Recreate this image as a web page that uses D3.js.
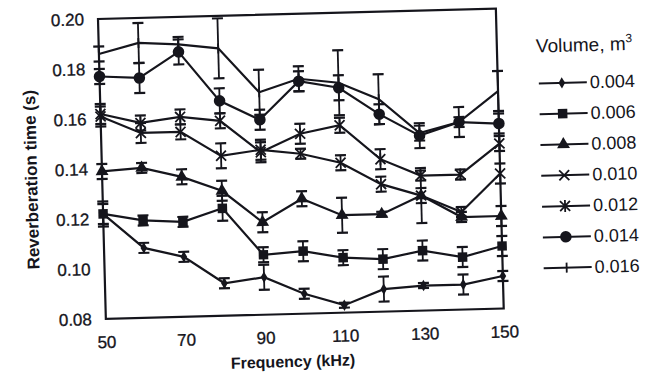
<!DOCTYPE html>
<html>
<head>
<meta charset="utf-8">
<script src="https://cdn.jsdelivr.net/npm/d3@7"></script>
<style>
  body { margin: 0; background: #fff; }
  svg { display: block; font-family: "Liberation Sans", Arial, sans-serif; }
</style>
</head>
<body>
<svg id="chart" width="654" height="376"></svg>
<script>
// data
const freq = [50, 60, 70, 80, 90, 100, 110, 120, 130, 140, 150];
const volumes = ["0.004", "0.006", "0.008", "0.010", "0.012", "0.014", "0.016"];
const v004 = [0.122, 0.108, 0.104, 0.093, 0.095, 0.088, 0.083, 0.089, 0.090, 0.090, 0.093];
const v006 = [0.122, 0.119, 0.118, 0.123, 0.104, 0.105, 0.102, 0.101, 0.104, 0.101, 0.105];
const v008 = [0.139, 0.140, 0.136, 0.130, 0.117, 0.126, 0.119, 0.119, 0.126, 0.117, 0.117];
const v010 = [0.161, 0.154, 0.154, 0.144, 0.146, 0.144, 0.140, 0.131, 0.126, 0.119, 0.134];
const v012 = [0.162, 0.158, 0.160, 0.158, 0.145, 0.152, 0.155, 0.141, 0.134, 0.134, 0.146];
const v014 = [0.177, 0.176, 0.186, 0.166, 0.158, 0.173, 0.170, 0.159, 0.150, 0.155, 0.154];
const v016 = [0.186, 0.190, 0.189, 0.187, 0.169, 0.174, 0.172, 0.165, 0.151, 0.155, 0.167];
const e004 = [0.004, 0.002, 0.002, 0.002, 0.005, 0.002, 0.001, 0.005, 0.001, 0.004, 0.002];
const e006 = [0.005, 0.002, 0.002, 0.005, 0.003, 0.004, 0.003, 0.004, 0.004, 0.004, 0.004];
const e008 = [0.003, 0.002, 0.003, 0.004, 0.004, 0.003, 0.007, 0.001, 0.011, 0.002, 0.004];
const e010 = [0.004, 0.004, 0.003, 0.005, 0.004, 0.002, 0.003, 0.003, 0.003, 0.002, 0.004];
const e012 = [0.004, 0.003, 0.003, 0.003, 0.004, 0.004, 0.003, 0.004, 0.002, 0.002, 0.003];
const e014 = [0.003, 0.006, 0.005, 0.005, 0.004, 0.004, 0.005, 0.004, 0.005, 0.006, 0.004];
const e016 = [0.003, 0.008, 0.003, 0.012, 0.009, 0.005, 0.013, 0.010, 0.003, 0.002, 0.008];
const xTicks = [50, 70, 90, 110, 130, 150];
const yTicks = [0.08, 0.10, 0.12, 0.14, 0.16, 0.18, 0.20];

const values = [v004, v006, v008, v010, v012, v014, v016];
const errors = [e004, e006, e008, e010, e012, e014, e016];
const markers = ["diamond", "square", "triangle", "cross", "star", "circle", "tick"];

const ink = "#15151c";
const plotLeft = 98, plotTop = 19, plotW = 398, plotH = 300;

const svg = d3.select("#chart");
// the scan is tilted slightly, so the whole figure is turned a little
const root = svg.append("g").attr("transform", `rotate(-1.5, ${plotLeft}, ${plotTop})`);

const x = d3.scaleLinear().domain([50, 150]).range([plotLeft, plotLeft + plotW]);
const y = d3.scaleLinear().domain([0.08, 0.20]).range([plotTop + plotH, plotTop]);

// frame
root.append("rect")
  .attr("x", plotLeft).attr("y", plotTop).attr("width", plotW).attr("height", plotH)
  .attr("fill", "none").attr("stroke", ink).attr("stroke-width", 2.2);

// axes (labels only, no visible ticks)
const xAxis = root.append("g")
  .attr("transform", `translate(0,${plotTop + plotH})`)
  .call(d3.axisBottom(x).tickValues(xTicks).tickSize(0).tickPadding(17).tickFormat(d3.format("d")));
const yAxis = root.append("g")
  .attr("transform", `translate(${plotLeft},0)`)
  .call(d3.axisLeft(y).tickValues(yTicks).tickSize(0).tickPadding(14).tickFormat(d3.format(".2f")));
[xAxis, yAxis].forEach(a => {
  a.select(".domain").remove();
  a.selectAll("text").attr("font-size", 17).attr("fill", ink)
    .attr("stroke", ink).attr("stroke-width", 0.3)
    .attr("font-family", "Liberation Sans, Arial, sans-serif");
});

root.append("text")
  .attr("x", 284).attr("y", 372)
  .attr("text-anchor", "middle").attr("font-size", 16).attr("font-weight", "bold").attr("fill", ink)
  .text("Frequency (kHz)");
root.append("text")
  .attr("transform", "translate(33,178) rotate(-90)")
  .attr("text-anchor", "middle").attr("font-size", 17).attr("font-weight", "bold").attr("fill", ink)
  .text("Reverberation time (s)");

function drawMarker(g, type) {
  const sym = {
    diamond: d3.symbol(d3.symbolDiamond, 38),
    square: d3.symbol(d3.symbolSquare, 90),
    triangle: d3.symbol(d3.symbolTriangle, 72),
    circle: d3.symbol(d3.symbolCircle, 105)
  };
  if (sym[type]) {
    g.append("path").attr("d", sym[type]()).attr("fill", ink);
  } else if (type === "cross") {
    g.append("path").attr("d", "M-5,-5L5,5M-5,5L5,-5").attr("stroke", ink).attr("stroke-width", 1.8);
  } else if (type === "star") {
    g.append("path").attr("d", "M-5,-5L5,5M-5,5L5,-5M0,-6L0,6").attr("stroke", ink).attr("stroke-width", 1.8);
  } else if (type === "tick") {
    g.append("path").attr("d", "M0,-5L0,5").attr("stroke", ink).attr("stroke-width", 1.8);
  }
}

const line = d3.line().x(d => x(d.f)).y(d => y(d.v));

values.forEach((vals, s) => {
  const pts = freq.map((f, i) => ({ f: f, v: vals[i], e: errors[s][i] }));
  const g = root.append("g");

  // error bars
  const bars = g.selectAll(".err").data(pts).enter().append("g").attr("class", "err")
    .attr("stroke", ink).attr("stroke-width", 1.8);
  bars.append("line")
    .attr("x1", d => x(d.f)).attr("x2", d => x(d.f))
    .attr("y1", d => y(d.v - d.e)).attr("y2", d => y(d.v + d.e));
  bars.append("line")
    .attr("x1", d => x(d.f) - 5.5).attr("x2", d => x(d.f) + 5.5)
    .attr("y1", d => y(d.v + d.e)).attr("y2", d => y(d.v + d.e)).attr("stroke-width", 2.2);
  bars.append("line")
    .attr("x1", d => x(d.f) - 5.5).attr("x2", d => x(d.f) + 5.5)
    .attr("y1", d => y(d.v - d.e)).attr("y2", d => y(d.v - d.e)).attr("stroke-width", 2.2);

  g.append("path").datum(pts)
    .attr("d", line).attr("fill", "none").attr("stroke", ink).attr("stroke-width", 2.2);

  g.selectAll(".mk").data(pts).enter().append("g").attr("class", "mk")
    .attr("transform", d => `translate(${x(d.f)},${y(d.v)})`)
    .each(function () { drawMarker(d3.select(this), markers[s]); });
});

// legend
const lg = root.append("g");
const title = lg.append("text").attr("x", 535).attr("y", 64)
  .attr("font-size", 19).attr("fill", ink).text("Volume, m");
title.append("tspan").attr("font-size", 12).attr("dy", -8).text("3");

volumes.forEach((v, i) => {
  const yy = 95 + i * 30.8;
  const row = lg.append("g");
  row.append("line").attr("x1", 537).attr("x2", 585).attr("y1", yy).attr("y2", yy)
    .attr("stroke", ink).attr("stroke-width", 2);
  const m = row.append("g").attr("transform", `translate(560,${yy})`);
  drawMarker(m, markers[i]);
  row.append("text").attr("x", 588).attr("y", yy + 6)
    .attr("font-size", 18).attr("fill", ink).text(v);
});
</script>
</body>
</html>
